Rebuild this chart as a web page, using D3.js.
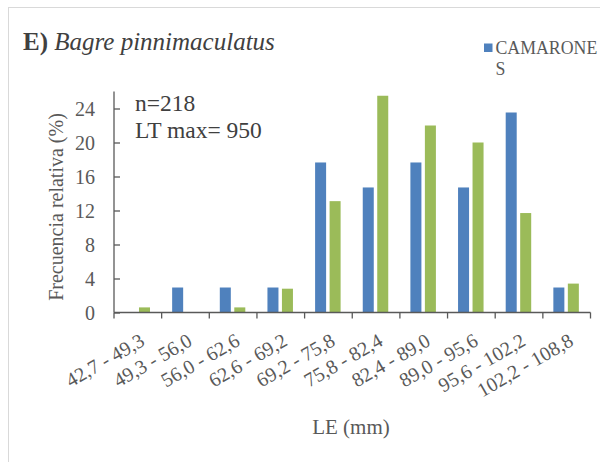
<!DOCTYPE html>
<html>
<head>
<meta charset="utf-8">
<script src="https://cdn.jsdelivr.net/npm/d3@7"></script>
<style>
  html, body { margin: 0; padding: 0; background: #fff; }
  svg { display: block; }
</style>
</head>
<body>
<svg id="chart" width="600" height="462" font-family="'Liberation Serif', 'Times New Roman', serif"></svg>
<script>
const categories = ["42,7 - 49,3", "49,3 - 56,0", "56,0 - 62,6", "62,6 - 69,2", "69,2 - 75,8",
  "75,8 - 82,4", "82,4 - 89,0", "89,0 - 95,6", "95,6 - 102,2", "102,2 - 108,8"];
const seriesNames = ["CAMARONES", "OTRO"];
const camarones = [0, 2.94, 2.94, 2.94, 17.65, 14.71, 17.65, 14.71, 23.53, 2.94];
const otro = [0.6, 0, 0.6, 2.8, 13.1, 25.5, 22.0, 20.0, 11.7, 3.4];
const yTicks = [0, 4, 8, 12, 16, 20, 24];
const colors = ["#4F81BD", "#9BBB59"];
const FONT = "'Liberation Serif', 'Times New Roman', serif";

const svg = d3.select("#chart");
const pLeft = 114, pRight = 590.5, pTop = 91.5, pBottom = 312.5;

// chart border
svg.append("rect").attr("x", 8.5).attr("y", 7.5).attr("width", 620).attr("height", 480)
  .attr("fill", "#fff").attr("stroke", "#d9d9d9").attr("stroke-width", 1);

const x0 = d3.scaleBand().domain(categories).range([pLeft, pRight]).paddingInner(0).paddingOuter(0);
const x1 = d3.scaleBand().domain([0, 1]).range([10.5, 36]).paddingInner(0.24).paddingOuter(0);
const y = d3.scaleLinear().domain([0, 26]).range([pBottom, pTop]);

const data = categories.map((c, i) => ({ c, v: [camarones[i], otro[i]] }));

// bars
const g = svg.append("g");
g.selectAll("g.cat").data(data).join("g")
  .attr("class", "cat")
  .attr("transform", d => `translate(${x0(d.c)},0)`)
  .selectAll("rect").data(d => d.v.map((v, k) => ({ v, k })))
  .join("rect")
  .attr("x", d => x1(d.k))
  .attr("width", x1.bandwidth())
  .attr("y", d => y(d.v))
  .attr("height", d => y(0) - y(d.v))
  .attr("fill", d => colors[d.k]);

// y axis
const yAxis = d3.axisLeft(y).tickValues(yTicks).tickSize(-6).tickPadding(20).tickFormat(d3.format("d"));
const ya = svg.append("g").attr("transform", `translate(${pLeft},0)`).call(yAxis);
ya.attr("font-family", FONT).attr("font-size", 20);
ya.select(".domain").attr("stroke", "#595959").attr("stroke-width", 1.3).attr("d", `M0,${pTop}V${pBottom}`);
ya.selectAll(".tick line").attr("stroke", "#595959").attr("stroke-width", 1.3);
ya.selectAll(".tick text").attr("fill", "#595959").attr("dy", "0.34em").attr("x", -19);

// x axis with ticks at category boundaries
const xa = svg.append("g").attr("transform", `translate(0,${pBottom})`);
xa.append("line").attr("x1", pLeft).attr("x2", pRight).attr("y1", 0).attr("y2", 0)
  .attr("stroke", "#595959").attr("stroke-width", 1.3);
const bounds = categories.map(c => x0(c)).concat([x0(categories[categories.length - 1]) + x0.step()]);
xa.selectAll("line.tk").data(bounds).join("line").attr("class", "tk")
  .attr("x1", d => d).attr("x2", d => d).attr("y1", 0).attr("y2", 6)
  .attr("stroke", "#595959").attr("stroke-width", 1.3);
xa.selectAll("text.lbl").data(categories).join("text").attr("class", "lbl")
  .attr("transform", d => `translate(${x0(d) + x0.bandwidth() / 2 + 8},${32}) rotate(-30)`)
  .attr("text-anchor", "end")
  .attr("fill", "#595959")
  .attr("font-family", FONT)
  .attr("font-size", 20)
  .text(d => d);

// axis titles
svg.append("text").attr("x", 351).attr("y", 434).attr("text-anchor", "middle")
  .attr("font-family", FONT).attr("fill", "#595959").attr("font-size", 21).text("LE (mm)");
svg.append("text").attr("transform", "translate(63,207) rotate(-90)").attr("text-anchor", "middle")
  .attr("font-family", FONT).attr("fill", "#595959").attr("font-size", 20).text("Frecuencia relativa (%)");

// chart title
const t = svg.append("text").attr("x", 23).attr("y", 50).attr("fill", "#404040")
  .attr("font-family", FONT).attr("font-size", 25);
t.append("tspan").attr("font-weight", "bold").text("E)");
t.append("tspan").text(" ");
t.append("tspan").attr("font-style", "italic").text("Bagre pinnimaculatus");

// annotation
svg.append("text").attr("x", 135).attr("y", 111).attr("fill", "#404040")
  .attr("font-family", FONT).attr("font-size", 23.5).text("n=218");
svg.append("text").attr("x", 135).attr("y", 138).attr("fill", "#404040")
  .attr("font-family", FONT).attr("font-size", 23.5).text("LT max= 950");

// legend (right edge reached as in the original)
svg.append("rect").attr("x", 484).attr("y", 43.5).attr("width", 8.5).attr("height", 8.5).attr("fill", colors[0]);
svg.append("text").attr("x", 495.5).attr("y", 54).attr("fill", "#595959")
  .attr("font-family", FONT).attr("font-size", 17.8).text("CAMARONE");
svg.append("text").attr("x", 495.5).attr("y", 75).attr("fill", "#595959")
  .attr("font-family", FONT).attr("font-size", 17.8).text("S");
</script>
</body>
</html>
